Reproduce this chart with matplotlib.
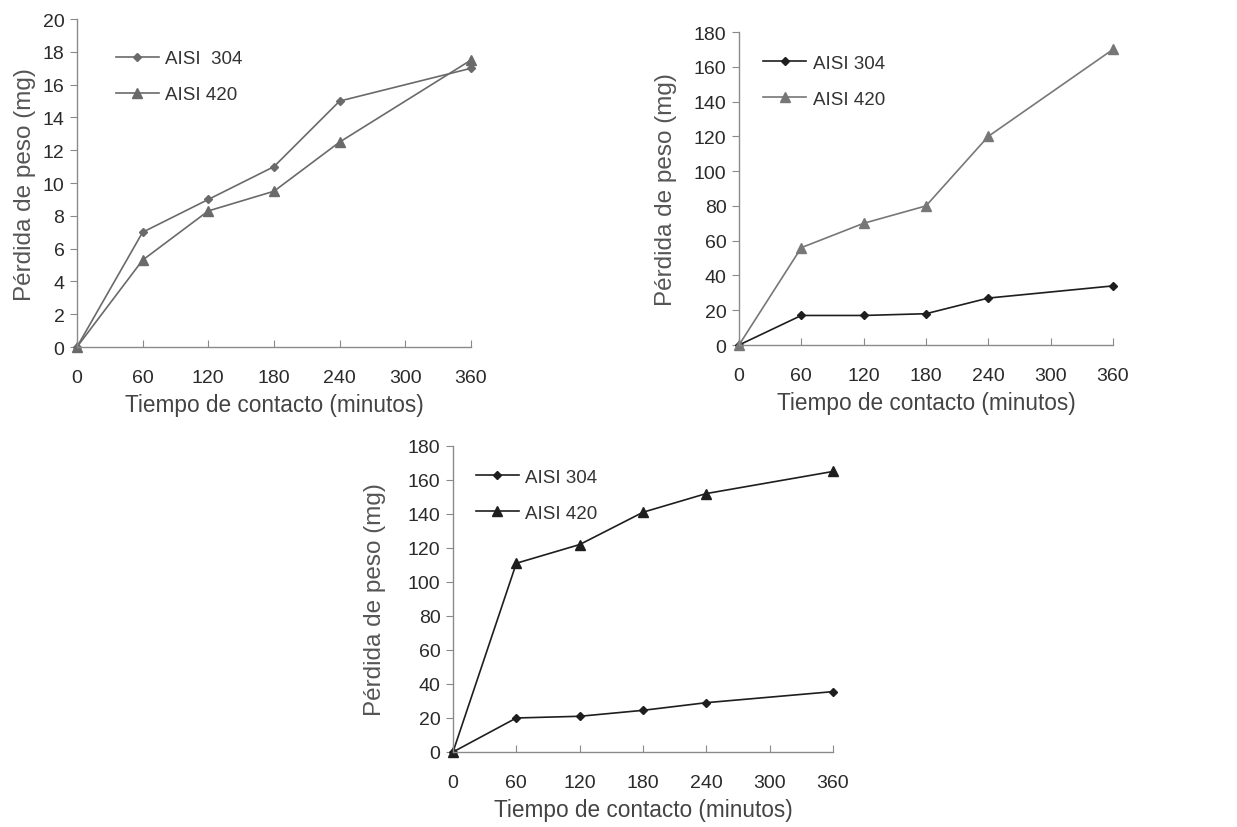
import matplotlib
matplotlib.use('Agg')
from matplotlib import pyplot as plt

plt.rcParams['font.family'] = ['Liberation Sans', 'DejaVu Sans']

tiempo = [0, 60, 120, 180, 240, 360]
x_ticks = [0, 60, 120, 180, 240, 300, 360]

# panel 1
p1_304 = [0, 7.0, 9.0, 11.0, 15.0, 17.0]
p1_420 = [0, 5.3, 8.3, 9.5, 12.5, 17.5]
# panel 2
p2_304 = [0, 17, 17, 18, 27, 34]
p2_420 = [0, 56, 70, 80, 120, 170]
# panel 3
p3_304 = [0, 20, 21, 24.5, 29, 35.5]
p3_420 = [0, 111, 122, 141, 152, 165]

fig = plt.figure(figsize=(12.37, 8.28), dpi=100)

panels = [
    # rect, y304, y420, ymax, ystep, color304, color420, label304, legend anchor, ylabel x
    ([0.0622, 0.5797, 0.3185, 0.396], p1_304, p1_420, 20, 2, '#6a6a6a', '#6a6a6a', 'AISI  304', (0.065, 0.945), -0.105),
    ([0.5974, 0.5821, 0.3023, 0.378], p2_304, p2_420, 180, 20, '#1e1e1e', '#777777', 'AISI 304', (0.03, 0.97), -0.167),
    ([0.3662, 0.0906, 0.3072, 0.3696], p3_304, p3_420, 180, 20, '#1e1e1e', '#1e1e1e', 'AISI 304', (0.025, 0.968), -0.175),
]

for rect, y304, y420, ymax, ystep, c304, c420, lab304, anchor, ylab_x in panels:
    ax = fig.add_axes(rect)
    ax.plot(tiempo, y304, color=c304, lw=1.2, marker='D', ms=4.5, label=lab304, clip_on=False)
    ax.plot(tiempo, y420, color=c420, lw=1.2, marker='^', ms=6.5, label='AISI 420', clip_on=False)
    ax.set_xlim(0, 360)
    ax.set_ylim(0, ymax)
    ax.set_xticks(x_ticks)
    ax.set_yticks(range(0, ymax + 1, ystep))
    for s in ['top', 'right']:
        ax.spines[s].set_visible(False)
    for s in ['left', 'bottom']:
        ax.spines[s].set_color('#8a8a8a')
        ax.spines[s].set_linewidth(1.0)
    ax.tick_params(axis='y', direction='out', length=5, color='#8a8a8a', labelsize=14, labelcolor='#2a2a2a', pad=4)
    ax.tick_params(axis='x', direction='in', length=5, color='#8a8a8a', labelsize=14, labelcolor='#2a2a2a', pad=16)
    ax.set_xlabel('Tiempo de contacto (minutos)', fontsize=16.3, color='#444444', labelpad=5)
    ax.set_ylabel('Pérdida de peso (mg)', fontsize=17.5, color='#555555')
    ax.yaxis.set_label_coords(ylab_x, 0.5)
    ax.legend(frameon=False, loc='upper left', bbox_to_anchor=anchor, fontsize=13.5,
              handlelength=2.3, handletextpad=0.35, labelspacing=1.0, labelcolor='#333333',
              borderaxespad=0.3)

plt.savefig('out.png', dpi=100)
